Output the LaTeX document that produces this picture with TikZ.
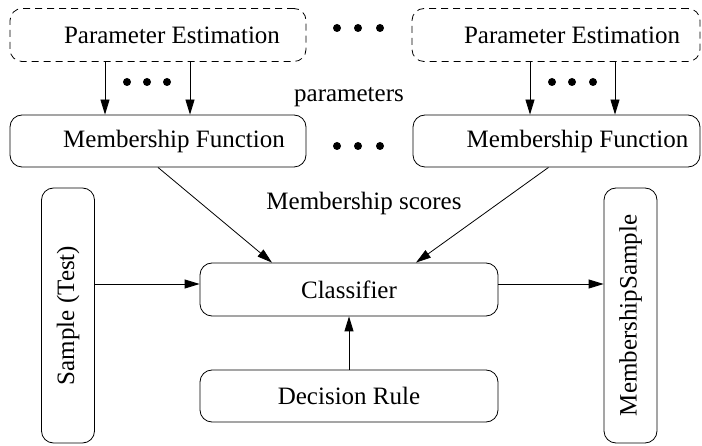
\documentclass[tikz,border=0pt]{standalone}
\usepackage{fontspec}
\setmainfont{Liberation Serif}
\usetikzlibrary{arrows.meta}

\tikzset{
  blk/.style={draw,line width=0.8pt,rounded corners=12pt,inner sep=0pt,minimum height=53pt},
  estblk/.style={blk,dash pattern=on 7pt off 5pt},
  arr/.style={line width=0.8pt,-{Triangle[length=15pt,width=9pt]}},
}

\begin{document}
\begin{tikzpicture}[x=1pt,y=-1pt,font=\fontsize{25}{30}\selectfont]
  \useasboundingbox (0,0) rectangle (702,446);
  % estimation and membership boxes
  \node[estblk,minimum width=296pt] (pel) at (158,35) {\hspace{28pt}Parameter Estimation};
  \node[estblk,minimum width=288pt] (per) at (556,35) {\hspace{32pt}Parameter Estimation};
  \node[blk,minimum width=296pt,minimum height=52pt] (mfl) at (158,141) {\hspace{32pt}Membership Function};
  \node[blk,minimum width=287pt,minimum height=52pt] (mfr) at (556.5,141) {\hspace{42pt}Membership Function};
  % classifier part
  \node[blk,minimum width=298pt] (cls) at (349,289.5) {Classifier};
  \node[blk,minimum width=298pt,minimum height=52pt] (rule) at (349,396) {Decision Rule};
  \node[blk,rotate=90,minimum width=255pt] (smp) at (68,315.5) {Sample (Test)};
  \node[blk,rotate=90,minimum width=255pt] (msmp) at (630.5,315.5) {MembershipSample};
  % labels
  \node (par) at (349,97) {parameters};
  \node (scr) at (364,203) {Membership scores};
  % dots
  \foreach \x in {337,358,380} {
    \fill (\x,28) circle (4pt);
    \fill (\x,146) circle (4pt);
  }
  \foreach \x in {127,147,167,552,572,593}
    \fill (\x,82) circle (4pt);
  % arrows
  \foreach \x in {105,190}
    \draw[arr] (pel.south -| \x,0) -- (mfl.north -| \x,0);
  \foreach \x in {530,615}
    \draw[arr] (per.south -| \x,0) -- (mfr.north -| \x,0);
  \draw[arr] (mfl.south) -- ([xshift=-77pt]cls.north);
  \draw[arr] ([xshift=-8pt]mfr.south) -- ([xshift=67pt]cls.north);
  \coordinate (cin) at ([yshift=5.5pt]cls.west);
  \coordinate (cout) at ([yshift=5.5pt]cls.east);
  \draw[arr] (smp.south |- cin) -- (cin);
  \draw[arr] (cout) -- (msmp.north |- cout);
  \draw[arr] (rule) -- (cls);
\end{tikzpicture}
\end{document}
